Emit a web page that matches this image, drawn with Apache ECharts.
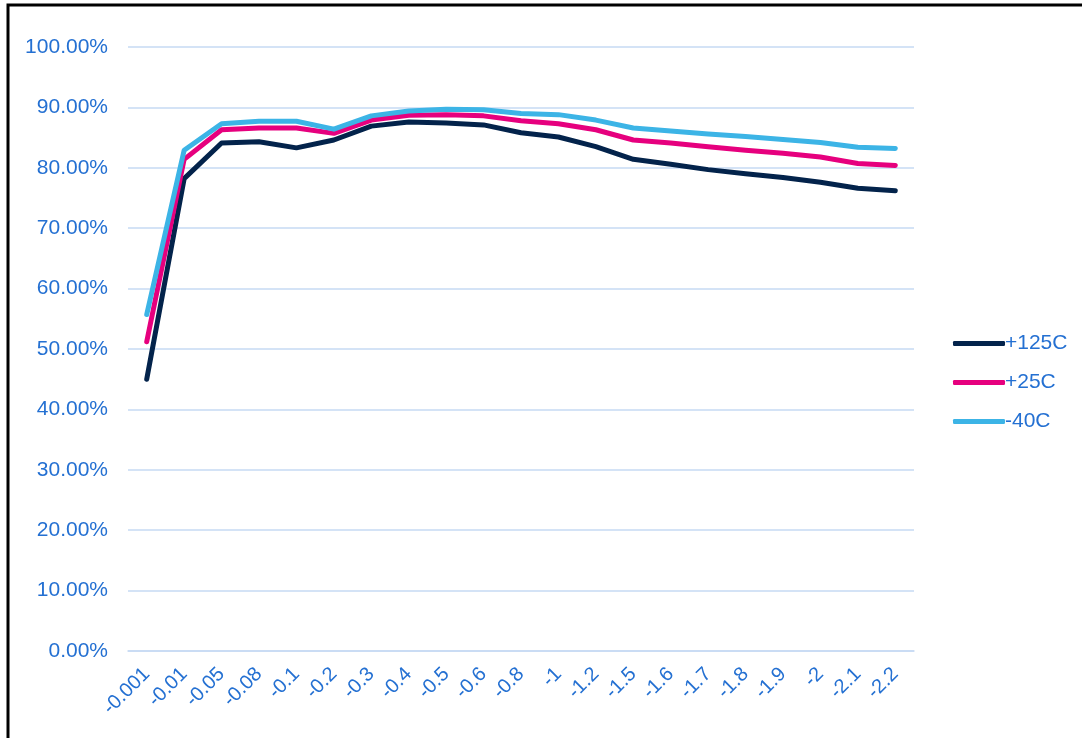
<!DOCTYPE html>
<html>
<head>
<meta charset="utf-8">
<script src="https://cdn.jsdelivr.net/npm/echarts@6/dist/echarts.min.js"></script>
<style>
  html, body { margin: 0; padding: 0; background: #fff; }
  #chart { width: 1082px; height: 738px; }
</style>
</head>
<body>
<div id="chart"></div>
<script>
// load current (A)
const loads = ['-0.001', '-0.01', '-0.05', '-0.08', '-0.1', '-0.2', '-0.3', '-0.4', '-0.5', '-0.6', '-0.8',
  '-1', '-1.2', '-1.5', '-1.6', '-1.7', '-1.8', '-1.9', '-2', '-2.1', '-2.2']

// efficiency (%) per temperature
const eff125 = [45.0, 78.2, 84.1, 84.3, 83.3, 84.6, 86.9, 87.6, 87.4, 87.1, 85.8,
  85.1, 83.5, 81.4, 80.6, 79.7, 79.0, 78.4, 77.6, 76.6, 76.2]
const eff25 = [51.2, 81.4, 86.3, 86.6, 86.6, 85.7, 87.9, 88.7, 88.8, 88.6, 87.8,
  87.3, 86.3, 84.6, 84.1, 83.5, 82.9, 82.4, 81.8, 80.7, 80.4]
const eff40 = [55.7, 82.9, 87.3, 87.7, 87.7, 86.4, 88.6, 89.4, 89.7, 89.6, 89.0,
  88.8, 87.9, 86.6, 86.1, 85.6, 85.2, 84.7, 84.2, 83.4, 83.2]

const seriesNames = ['+125C', '+25C', '-40C']
const colors = ['#03234B', '#E6007E', '#3CB4E6']
const labelColor = '#2470D2'

const chart = echarts.init(document.getElementById('chart'))

const makeLine = (name, data, color) => ({
  name,
  type: 'line',
  data,
  showSymbol: false,
  symbol: 'none',
  lineStyle: { width: 5, color, cap: 'round', join: 'round' },
  itemStyle: { color }
})

chart.setOption({
  animation: false,
  textStyle: { fontFamily: 'Liberation Sans, Arial, sans-serif' },
  graphic: [
    {
      type: 'rect',
      shape: { x: 8, y: 5, width: 1200, height: 900 },
      style: { fill: 'none', stroke: '#000', lineWidth: 3 },
      silent: true
    }
  ],
  grid: { left: 128, right: 168, top: 47, bottom: 87 },
  legend: {
    orient: 'vertical',
    left: 948,
    top: 328,
    itemWidth: 52,
    itemHeight: 5,
    itemGap: 18,
    icon: 'roundRect',
    textStyle: { color: labelColor, fontSize: 21, padding: [0, 0, 0, -5] },
    data: seriesNames
  },
  xAxis: {
    type: 'category',
    data: loads,
    boundaryGap: true,
    axisLine: { show: true, lineStyle: { color: '#C6DAF3', width: 1.5 } },
    axisTick: { show: false },
    axisLabel: {
      color: labelColor,
      fontSize: 20,
      rotate: 45,
      margin: 20,
      interval: 0
    }
  },
  yAxis: {
    type: 'value',
    min: 0,
    max: 100,
    interval: 10,
    axisLine: { show: false },
    axisTick: { show: false },
    splitLine: { lineStyle: { color: '#C6DAF3', width: 1.5 } },
    axisLabel: {
      color: labelColor,
      fontSize: 21,
      margin: 20,
      formatter: v => v.toFixed(2) + '%'
    }
  },
  series: [
    makeLine(seriesNames[0], eff125, colors[0]),
    makeLine(seriesNames[1], eff25, colors[1]),
    makeLine(seriesNames[2], eff40, colors[2])
  ]
})
</script>
</body>
</html>
